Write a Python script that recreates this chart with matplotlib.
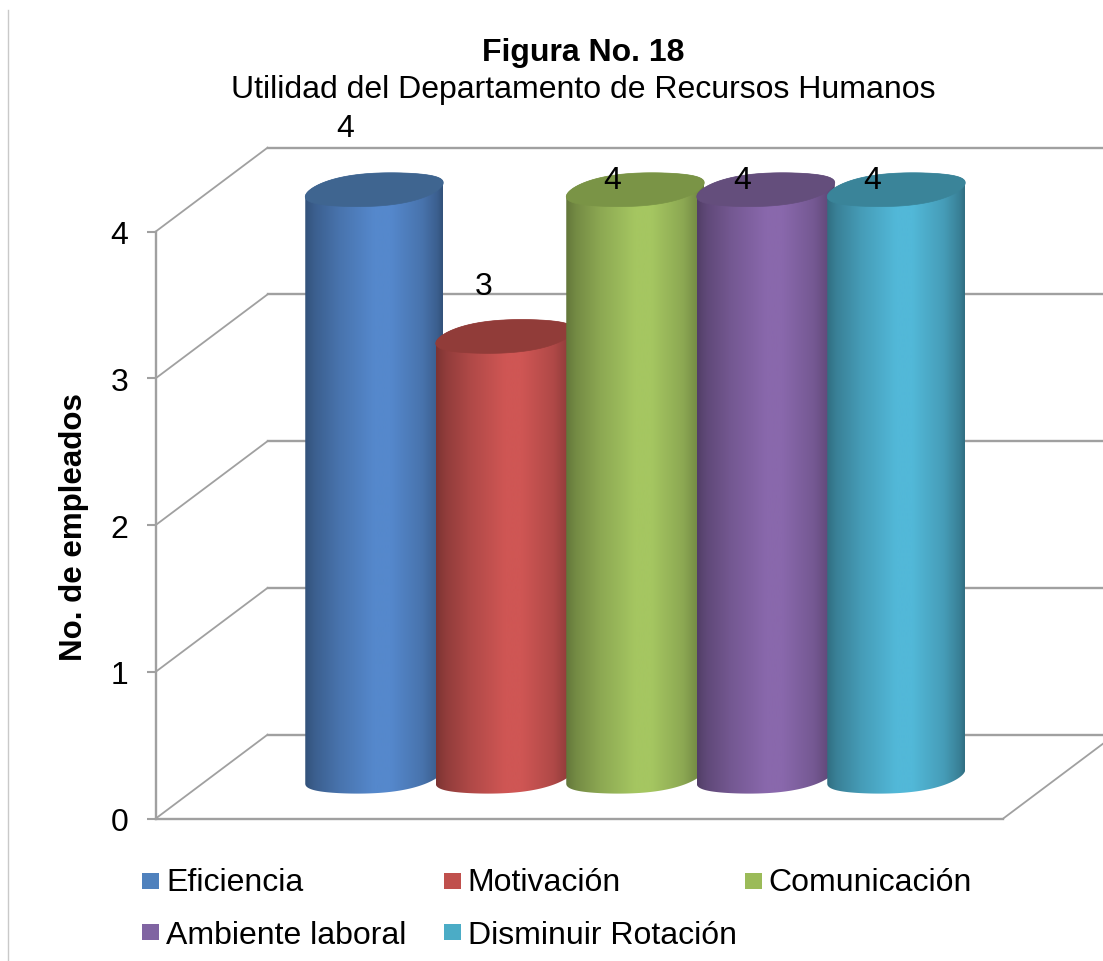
import numpy as np
import matplotlib
matplotlib.use("Agg")
import matplotlib.pyplot as plt
from matplotlib.lines import Line2D
from matplotlib.patches import PathPatch, Rectangle
from matplotlib.path import Path

plt.rcParams["font.family"] = ["Liberation Sans", "DejaVu Sans"]

# --- Data ---
categories = ["Eficiencia", "Motivación", "Comunicación", "Ambiente laboral", "Disminuir Rotación"]
values = [4, 3, 4, 4, 4]
y_ticks = [0, 1, 2, 3, 4]

# --- Colours ---
legend_colors = ["#4F81BD", "#C0504D", "#9BBB59", "#8064A2", "#4BACC6"]
body_colors = ["#5588CC", "#CF5654", "#A5C661", "#8968AC", "#52B8D8"]
cap_colors = ["#3F6590", "#913C39", "#7A9446", "#644E7C", "#3A8499"]
grid_color = "#a0a0a0"

W, H = 1103, 962
fig = plt.figure(figsize=(W / 100, H / 100), dpi=100)

# front plane of the 3D box
left, right, top, bottom = 155.5, 1003, 232.7, 819.7
ax = fig.add_axes([left / W, 1 - bottom / H, (right - left) / W, (bottom - top) / H])

px_x = 130.5     # pixels per category
px_y = (bottom - top) / 4.0     # pixels per unit
half_span = (right - left) / 2 / px_x
xmin, xmax = 2 - half_span, 2 + half_span

# depth of the box, data units
depth_x = 112 / px_x
depth_y = 84 / px_y

# back wall and side gridlines
for v in y_ticks:
    ax.plot([xmin + depth_x, xmax + depth_x], [v + depth_y, v + depth_y],
            color=grid_color, lw=1.7, clip_on=False, zorder=1)
    ax.plot([xmin, xmin + depth_x], [v, v + depth_y],
            color=grid_color, lw=1.3, clip_on=False, zorder=1)
ax.plot([xmax, xmax + depth_x], [0, depth_y], color=grid_color, lw=1.3, clip_on=False, zorder=1)

# tilted ellipse outline, in data units
half_w = 69 / px_x
tilt_a = 3.5 / px_y
tilt_b = 3.5 / px_y
half_h = 16.5 / px_y


def ellipse_pts(cx, cy, t):
    c = np.cos(t)
    return np.column_stack([cx + half_w * c, cy + tilt_a * c + tilt_b * c**3 + half_h * np.sin(t)])


# horizontal shading across a cylinder
stops = [0.0, 0.07, 0.25, 0.5, 0.62, 0.85, 0.96, 1.0]
shade = [0.60, 0.70, 0.85, 1.0, 1.0, 0.85, 0.70, 0.60]
pos = np.linspace(0, 1, 256)
shade_line = np.interp(pos, stops, shade)

for i, (val, body, cap) in enumerate(zip(values, body_colors, cap_colors)):
    cx = i + depth_x / 2
    y0 = depth_y / 2
    y1 = val + depth_y / 2
    z = 3 + i * 2

    # body: lower edge of the base, then upper edge of the top ellipse
    t_low = np.linspace(np.pi, 2 * np.pi, 80)
    t_up = np.linspace(0, np.pi, 80)
    pts = np.vstack([ellipse_pts(cx, y0, t_low), ellipse_pts(cx, y1, t_up)])
    outline = PathPatch(Path(np.vstack([pts, pts[:1]]), closed=True), transform=ax.transData,
                        facecolor="none", edgecolor="none")
    ax.add_patch(outline)
    outline.set_clip_on(False)

    rgb = np.array(matplotlib.colors.to_rgb(body))
    grad = (shade_line[:, None] * rgb)[None, :, :]
    im = ax.imshow(grad, extent=[cx - half_w, cx + half_w, y0 - 0.3, y1 + 0.3], aspect="auto",
                   interpolation="bilinear", zorder=z)
    im.set_clip_box(fig.bbox)
    im.set_clip_path(outline)

    # top cap
    t_all = np.linspace(0, 2 * np.pi, 160)
    cap_pts = ellipse_pts(cx, y1, t_all)
    ax.add_patch(PathPatch(Path(cap_pts, closed=True), facecolor=cap, edgecolor=cap,
                           lw=0.5, zorder=z + 1, clip_on=False))

# value labels, pixel offsets from the top of each cylinder
label_dx = [-29, -21, -23, -23.5, -24]
label_dy = [54, 42.5, 2, 2, 2]
for i, val in enumerate(values):
    ax.annotate(str(val), (i + depth_x / 2, val + depth_y / 2),
                xytext=(label_dx[i] * 0.72, label_dy[i] * 0.72), textcoords="offset points",
                ha="center", va="baseline", fontsize=23, color="black",
                zorder=30, annotation_clip=False)

ax.set_xlim(xmin, xmax)
ax.set_ylim(0, 4)
ax.patch.set_alpha(0)

# axes
for name in ["top", "right"]:
    ax.spines[name].set_visible(False)
for name in ["left", "bottom"]:
    ax.spines[name].set_color(grid_color)
    ax.spines[name].set_linewidth(1.7)
ax.set_xticks([])
ax.set_yticks(y_ticks)
ax.tick_params(axis="y", length=6.5, width=1.5, color=grid_color, pad=13, labelsize=23)
ax.set_ylabel("No. de empleados", fontsize=22.5, fontweight="bold")
ax.yaxis.set_label_coords((89 - left) / (right - left), 0.498)

# titles
fig.text(583 / W, 1 - 60.5 / H, "Figura No. 18", ha="center", va="baseline",
         fontsize=23, fontweight="bold")
fig.text(583 / W, 1 - 98 / H, "Utilidad del Departamento de Recursos Humanos",
         ha="center", va="baseline", fontsize=23)

# legend, laid out in two rows of three columns
col_x = [142, 443.5, 744.5]
row_y = [873.5, 925]
text_y = [891, 944]
for i, (name, c) in enumerate(zip(categories, legend_colors)):
    sx = col_x[i % 3]
    sy = row_y[i // 3]
    fig.add_artist(Rectangle((sx / W, 1 - (sy + 16) / H), 17 / W, 16 / H, transform=fig.transFigure,
                             facecolor=c, edgecolor="none"))
    fig.text((sx + 24) / W, 1 - text_y[i // 3] / H, name, ha="left", va="baseline", fontsize=23)

# frame line down the left side
fig.add_artist(Line2D([7.5 / W, 7.5 / W], [0, 1 - 11 / H], color="#c9c9c9", lw=1))

fig.savefig("out.png", dpi=100)
